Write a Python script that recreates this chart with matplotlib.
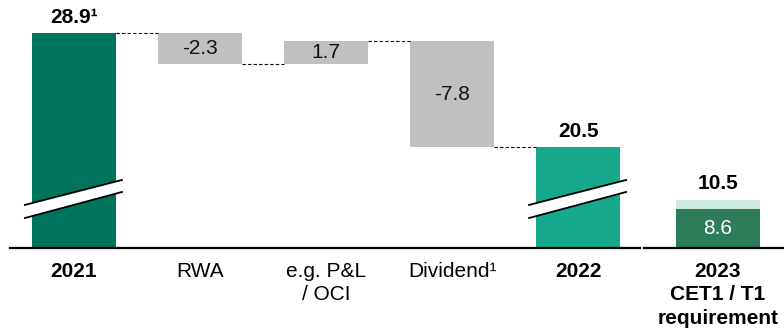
import matplotlib.pyplot as plt
from matplotlib.patches import Polygon

plt.rcParams['font.family'] = ['Liberation Sans', 'DejaVu Sans']

# waterfall: start, movements, end
categories = ['2021', 'RWA', 'e.g. P&L\n/ OCI', 'Dividend\u00b9', '2022']
start_value = 28.9
changes = [-2.3, 1.7, -7.8]
end_value = 20.5

# requirement column
req_label = '2023\nCET1 / T1\nrequirement'
req_cet1 = 8.6
req_total = 10.5

dark_green = '#00735C'
teal = '#16A98C'
grey = '#C0C0C0'
req_dark = '#2E7D5A'
req_light = '#CCEBDD'
FS = 15

fig = plt.figure(figsize=(7.84, 3.34), dpi=100)
W, H = 784, 334
base_px = 248
ax = fig.add_axes([10 / W, (H - base_px) / H, 630 / W, base_px / H])
ax2 = fig.add_axes([644 / W, (H - base_px) / H, 140 / W, base_px / H])

ymin = 13.0
px_per_unit = 13.5
ax.set_ylim(ymin, ymin + base_px / px_per_unit)
ax.set_xlim(-0.508, 4.49)
bw = 0.667

# start and end bars (broken axis)
ax.bar(0, start_value, width=bw, color=dark_green)
ax.bar(4, end_value, width=bw, color=teal)

# floating change bars
level = start_value
levels = [start_value]
for i, c in enumerate(changes, start=1):
    lo = min(level, level + c)
    ax.bar(i, abs(c), bottom=lo, width=bw, color=grey)
    ax.text(i, lo + abs(c) / 2, f'{c:.1f}', ha='center', va='center',
            fontsize=FS, color='#111111')
    level += c
    levels.append(level)

# dashed connectors
for i, lv in enumerate(levels):
    ax.plot([i + bw / 2, i + 1 - bw / 2], [lv, lv], color='black',
            lw=0.8, ls=(0, (3, 2)))

ax.text(0, start_value + 1.2, f'{start_value:.1f}\u00b9', ha='center',
        va='center', fontsize=FS, fontweight='bold')
ax.text(4, end_value + 1.1, f'{end_value:.1f}', ha='center', va='center',
        fontsize=FS, fontweight='bold')


def draw_break(axis, x):
    # white slanted gap with black edges across the bar
    xs = [x - 0.39, x + 0.38]
    upper = [16.19, 18.04]
    lower = [15.22, 17.15]
    poly = Polygon([(xs[0], lower[0]), (xs[1], lower[1]),
                    (xs[1], upper[1]), (xs[0], upper[0])],
                   closed=True, facecolor='white', edgecolor='none', zorder=3)
    axis.add_patch(poly)
    axis.plot(xs, upper, color='black', lw=1.3, zorder=4)
    axis.plot(xs, lower, color='black', lw=1.3, zorder=4)


draw_break(ax, 0)
draw_break(ax, 4)

# requirement column on its own scale
ax2.set_ylim(0, base_px / 4.55)
ax2.set_xlim(-0.587, 0.524)
ax2.bar(0, req_cet1, width=bw, color=req_dark)
ax2.bar(0, req_total - req_cet1, bottom=req_cet1, width=bw, color=req_light)
ax2.text(0, req_cet1 / 2, f'{req_cet1:.1f}', ha='center', va='center',
         fontsize=FS, color='white')
ax2.text(0, req_total + 3.6, f'{req_total:.1f}', ha='center', va='center',
         fontsize=FS, fontweight='bold')

for a in (ax, ax2):
    for s in ('top', 'left', 'right'):
        a.spines[s].set_visible(False)
    a.spines['bottom'].set_linewidth(1.6)
    a.set_yticks([])
    a.tick_params(axis='x', length=0, pad=10)

ax.set_xticks(range(len(categories)))
ax.set_xticklabels(categories, fontsize=FS, linespacing=1.3, va='top')
for i, lbl in enumerate(ax.get_xticklabels()):
    if i in (0, 4):
        lbl.set_fontweight('bold')
ax2.set_xticks([0])
ax2.set_xticklabels([req_label], fontsize=FS, fontweight='bold',
                    linespacing=1.3, va='top')

fig.savefig('out.png', dpi=100)
